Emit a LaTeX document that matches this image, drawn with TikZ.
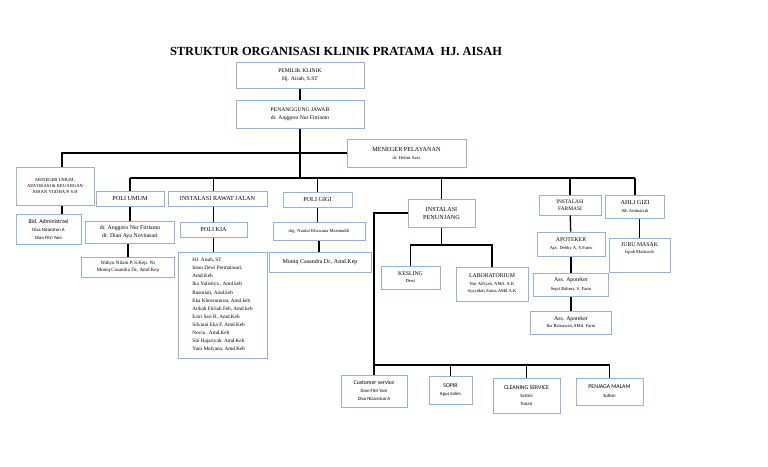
\documentclass[tikz,border=0pt]{standalone}
\usepackage{fontspec}
\setmainfont{Liberation Serif}
\newfontfamily\calibri{Carlito}
\definecolor{biru}{RGB}{149,179,215}
\newcommand{\kecil}{\fontsize{4.6}{6.2}\selectfont}
\newcommand{\sedang}{\fontsize{6.2}{8}\selectfont}

\begin{document}
\begin{tikzpicture}[x=1pt, y=-1pt,
    kotak/.style={draw=biru, line width=1pt, fill=white, inner sep=1pt, align=center, font=\sedang},
    kotakcal/.style={kotak, font=\calibri\fontsize{5.8}{8}\selectfont},
    garis/.style={black, line width=1.3pt}]
  \useasboundingbox[fill=white] (0,0) rectangle (768,466);

  % Judul
  \node[font=\bfseries\fontsize{12.4}{14}\selectfont] (judul) at (336,51) {STRUKTUR ORGANISASI KLINIK PRATAMA \ HJ. AISAH};

  % Pimpinan
  \node[kotak, minimum width=128pt, minimum height=26pt] (pemilik) at (300,75) {\fontsize{5.6}{7.5}\selectfont PEMILIK KLINIK\\ \fontsize{5.6}{7.5}\selectfont Hj. Aisah, S.ST};
  \node[kotak, minimum width=128pt, minimum height=28pt] (pj) at (300,114) {\fontsize{5.6}{7.5}\selectfont PENANGGUNG JAWAB\\ \fontsize{5.6}{7.5}\selectfont dr. Anggoro Nur Fitrianto};
  \node[kotak, minimum width=119pt, minimum height=28pt] (mp) at (406.5,153) {MENEGER PELAYANAN\\ \kecil dr. Helmi Aziz};
  \node[kotak, minimum width=78pt, minimum height=38pt, font=\kecil] (mu) at (55,186) {MENEGER UMUM,\\ ADVOKASI \& KEUANGAN\\ JOHAN YUDHA P. S.H};

  % Unit pelayanan
  \node[kotak, minimum width=68pt, minimum height=15pt] (pu) at (130,198.5) {POLI UMUM};
  \node[kotak, minimum width=99pt, minimum height=15pt] (irj) at (217.5,198.5) {INSTALASI RAWAT JALAN};
  \node[kotak, minimum width=69pt, minimum height=15pt] (pg) at (317.5,199.5) {POLI GIGI};
  \node[kotak, minimum width=67pt, minimum height=28pt] (ip) at (441.5,213) {INSTALASI\\ PENUNJANG};
  \node[kotak, minimum width=62pt, minimum height=20pt, font=\fontsize{5.4}{7}\selectfont] (if) at (570,205) {INSTALASI\\ FARMASI};
  \node[kotak, minimum width=59pt, minimum height=23pt] (ag) at (635,206.5) {AHLI GIZI\\ \kecil Sih Aminarsih};

  % Staf
  \node[kotakcal, minimum width=65pt, minimum height=30pt] (bid) at (48.5,229) {Bid. Administrasi\\ \fontsize{4.8}{7}\selectfont Diva Nizarotun A\\ \fontsize{4.8}{7}\selectfont Dian Fitri Yani};
  \node[kotak, minimum width=89pt, minimum height=22pt, font=\fontsize{5.8}{8}\selectfont] (dokter) at (130,232) {dr. Anggoro Nur Fitrianto\\ dr. Dian Ayu Novitasari};
  \node[kotak, minimum width=93pt, minimum height=20pt, font=\fontsize{5}{7.5}\selectfont] (wahyu) at (128,267) {Wahyu Nilam P, S.Kep. Ns\\ Moniq Casandra Dc, Amd.Kep};
  \node[kotak, minimum width=67pt, minimum height=15pt] (kia) at (213.5,229.5) {POLI KIA};
  \node[kotak, minimum width=89pt, minimum height=106pt, align=left, inner sep=4pt, font=\fontsize{5.2}{8.1}\selectfont] (bidan) at (222.5,305) {HJ. Aisah, ST\\ Intan Dewi Permatasari,\\ Amd.Keb\\ Ika Yulistiya , Amd.keb\\ Rusmiati, Amd.keb\\ Eka Khoerunnisa, Amd.keb\\ Atikah Fitriah Feb, Amd.keb\\ Estri Sari R, Amd.Keb\\ Silviani Eka F, Amd.Keb\\ Novia , Amd.Keb\\ Siti Hajariyah, Amd.Keb\\ Yuni Mulyana, Amd.Keb};
  \node[kotak, minimum width=92pt, minimum height=18pt, font=\kecil] (drg) at (319,231) {drg. Naufal Khawana Masmuddi};
  \node[kotak, minimum width=102pt, minimum height=20pt, font=\fontsize{6}{8}\selectfont] (moniq) at (320,262) {Moniq Casandra Dc, Amd.Kep};
  \node[kotak, minimum width=59pt, minimum height=23pt, font=\fontsize{5.8}{7}\selectfont] (ks) at (410.5,277.5) {KESLING\\ \kecil Dewi};
  \node[kotak, minimum width=72pt, minimum height=34pt, font=\fontsize{5.8}{7.5}\selectfont] (lab) at (492,284) {LABORATORIUM\\ \kecil Nur Alfiyah, AMd. A.K\\ \kecil Syayidati Zaina,AMd.A.K};
  \node[kotak, minimum width=68pt, minimum height=24pt, font=\fontsize{5.8}{7.5}\selectfont] (apo) at (571,244) {APOTEKER\\ \kecil Apt. Debby A, S.Farm};
  \node[kotak, minimum width=75pt, minimum height=23pt, font=\fontsize{5.8}{8.5}\selectfont] (ass1) at (571,284.5) {Ass. Apoteker\\ \kecil Septi Rahma, S. Farm};
  \node[kotak, minimum width=81pt, minimum height=23pt, font=\fontsize{5.8}{7.5}\selectfont] (ass2) at (571,322.5) {Ass. Apoteker\\ \kecil Ika Ratnawati,AMd. Farm};
  \node[kotak, minimum width=61pt, minimum height=34pt, font=\fontsize{5.8}{7.5}\selectfont] (jm) at (639.5,255) {JURU MASAK\\ \kecil Ispah Masturoh\\[6pt]};

  % Staf umum (bawah)
  \node[kotakcal, minimum width=66pt, minimum height=32pt] (cs) at (374,391) {Customer service\\ \fontsize{4.8}{7.5}\selectfont Dian Fitri Yani\\ \fontsize{4.8}{7.5}\selectfont Diva Nizarotun A};
  \node[kotakcal, minimum width=43pt, minimum height=28pt] (sopir) at (450.5,390) {SOPIR\\ \fontsize{4.8}{7.5}\selectfont Agus Salim};
  \node[kotakcal, minimum width=67pt, minimum height=35pt] (cls) at (526.5,395.5) {CLEANING SERVICE\\ \fontsize{4.8}{8.5}\selectfont Sartini\\ \fontsize{4.8}{8.5}\selectfont Tonari};
  \node[kotakcal, minimum width=67pt, minimum height=27pt] (malam) at (609.5,391.5) {PENJAGA MALAM\\[1pt] \fontsize{4.8}{7.5}\selectfont Sulton};

  % Titik bantu garis
  \coordinate (kiri) at (62,154);
  \coordinate (bar2) at (300,178);
  \coordinate (bar3) at (374,365);
  \coordinate (bar4) at (440,245);

  % Garis penghubung
  \draw[garis] (pemilik) -- (pj);
  \draw[garis] (pj.south) -- (pj.south |- bar2);
  \draw[garis] (mu.north -| kiri) |- (mp.west);
  \draw[garis] (mu.south -| kiri) -- (bid.north -| kiri);
  \draw[garis] (pu.north |- bar2) -- (ag.north |- bar2);
  \foreach \u in {pu,pg,ip,if,ag}
    \draw[garis] (\u.north |- bar2) -- (\u.north);
  \draw[garis] (kia.north |- bar2) -- (kia.north |- irj.north);
  \draw[garis] (pu.south) -- (pu.south |- dokter.north);
  \draw[garis] (dokter.south -| wahyu.north) -- (wahyu.north);
  \draw[garis] (kia.north) -- (kia.north |- irj.south);
  \draw[garis] (kia.south) -- (kia.south |- bidan.north);
  \draw[garis] (pg.south) -- (pg.south |- drg.north);
  \draw[garis] (drg.south) -- (drg.south |- moniq.north);
  \draw[garis] (ip.west) -| (cs.north);
  \draw[garis] (cs.north |- bar3) -| (malam.north);
  \draw[garis] (sopir.north |- bar3) -- (sopir.north);
  \draw[garis] (cls.north |- bar3) -- (cls.north);
  \draw[garis] (ip.south) -- (ip.south |- bar4);
  \draw[garis] (ks.north) -- (ks.north |- bar4) -| (lab.north);
  \draw[garis] (if) -- (apo);
  \draw[garis] (apo) -- (ass1);
  \draw[garis] (ass1) -- (ass2);
  \draw[garis] (ag.south -| jm.north) -- (jm.north);
\end{tikzpicture}
\end{document}
